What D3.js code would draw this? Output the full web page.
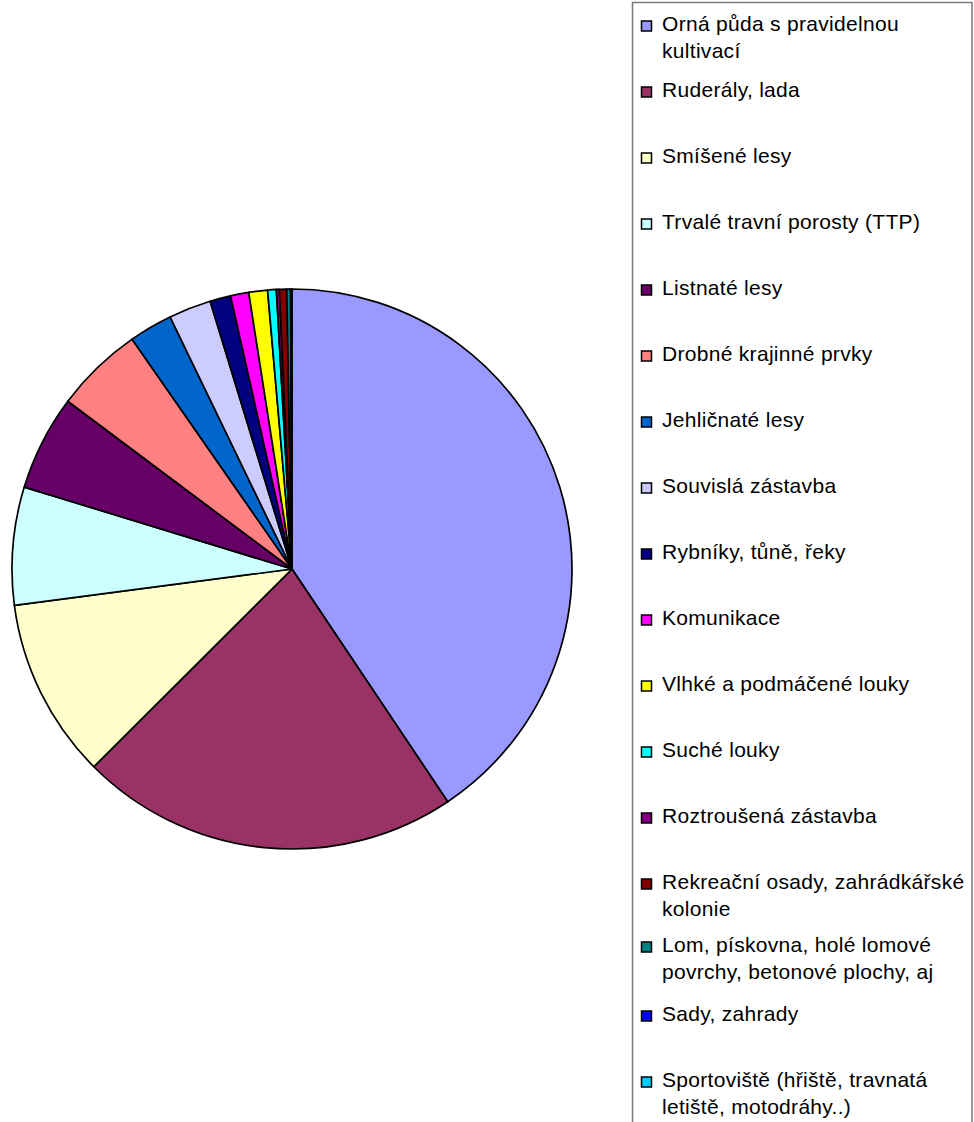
<!DOCTYPE html>
<html>
<head>
<meta charset="utf-8">
<script src="https://cdn.jsdelivr.net/npm/d3@7"></script>
<style>
  html, body { margin: 0; padding: 0; background: #fff; }
  svg { display: block; }
</style>
</head>
<body>
<svg id="chart" width="974" height="1122"></svg>
<script>
const categories = [
  "Orná půda s pravidelnou\nkultivací",
  "Ruderály, lada",
  "Smíšené lesy",
  "Trvalé travní porosty (TTP)",
  "Listnaté lesy",
  "Drobné krajinné prvky",
  "Jehličnaté lesy",
  "Souvislá zástavba",
  "Rybníky, tůně, řeky",
  "Komunikace",
  "Vlhké a podmáčené louky",
  "Suché louky",
  "Roztroušená zástavba",
  "Rekreační osady, zahrádkářské\nkolonie",
  "Lom, pískovna, holé lomové\npovrchy, betonové plochy, aj",
  "Sady, zahrady",
  "Sportoviště (hřiště, travnatá\nletiště, motodráhy..)"
];
const values = [40.6, 21.9, 10.4, 6.8, 5.5, 5.1, 2.5, 2.45, 1.2, 1.05, 1.08, 0.5, 0.17, 0.42, 0.22, 0.04, 0.04];
const colors = ["#9999FF", "#993366", "#FFFFCC", "#CCFFFF", "#660066", "#FF8080", "#0066CC", "#CCCCFF",
                "#000080", "#FF00FF", "#FFFF00", "#00FFFF", "#800080", "#800000", "#008080", "#0000FF", "#00CCFF"];

const svg = d3.select("#chart");
const cx = 292, cy = 569, R = 280;

const pie = d3.pie().sort(null).value(d => d.v).startAngle(0).endAngle(2 * Math.PI);
const arc = d3.arc().innerRadius(0).outerRadius(R);
const data = categories.map((c, i) => ({ c, v: values[i], col: colors[i] }));

const g = svg.append("g").attr("transform", `translate(${cx},${cy})`);
g.selectAll("path").data(pie(data)).join("path")
  .attr("d", arc)
  .attr("fill", d => d.data.col)
  .attr("stroke", "#000")
  .attr("stroke-width", 1.7)
  .attr("stroke-linejoin", "round");

// Legend
const lx = 632.5, ly = 2.5, lw = 339.5;
svg.append("rect").attr("x", lx).attr("y", ly).attr("width", lw).attr("height", 1200)
  .attr("fill", "#fff").attr("stroke", "#7a7a7a").attr("stroke-width", 1.5);

const rowStep = 66, firstBase = 31, lineGap = 26.5;
const lg = svg.append("g");
data.forEach((d, i) => {
  const base = firstBase + i * rowStep + (i === 14 ? -3 : 0);
  lg.append("rect").attr("x", 641.5).attr("y", base - 10).attr("width", 10).attr("height", 10)
    .attr("fill", d.col).attr("stroke", "#000").attr("stroke-width", 1.5);
  const t = lg.append("text").attr("x", 662).attr("y", base)
    .style("font-family", "'Liberation Sans', Arial, Helvetica, sans-serif")
    .style("font-size", "21px").style("letter-spacing", "0.3px").attr("fill", "#000");
  d.c.split("\n").forEach((line, k) => {
    t.append("tspan").attr("x", 662).attr("y", base + k * lineGap).text(line);
  });
});
</script>
</body>
</html>
